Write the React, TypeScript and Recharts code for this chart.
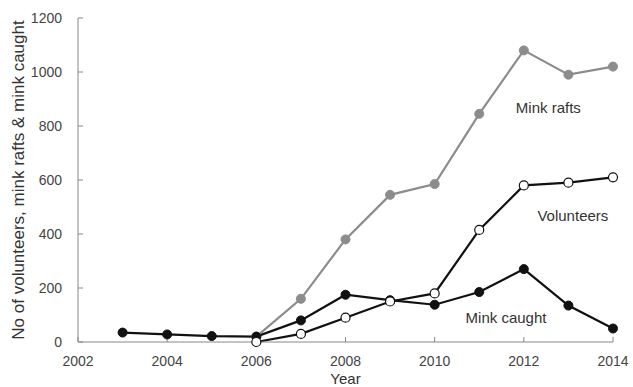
import { LineChart, Line, XAxis, YAxis, ReferenceDot } from "recharts";

const years = [2003, 2004, 2005, 2006, 2007, 2008, 2009, 2010, 2011, 2012, 2013, 2014];
const minkCaught = [35, 28, 22, 20, 80, 175, 155, 138, 185, 270, 135, 50];
const volunteers = [null, null, null, 0, 30, 90, 150, 180, 415, 580, 590, 610];
const minkRafts = [null, null, null, 20, 160, 380, 545, 585, 845, 1080, 990, 1020];

const xTicks = [2002, 2004, 2006, 2008, 2010, 2012, 2014];
const yTicks = [0, 200, 400, 600, 800, 1000, 1200];

const rows = years.map((year, i) => ({
  year,
  caught: minkCaught[i],
  volunteers: volunteers[i],
  rafts: minkRafts[i],
}));

const font = "'Liberation Sans', Arial, sans-serif";
const tickStyle = { fontSize: 14, fill: "#444", fontFamily: font };

function SeriesLabel({ text }: { text: string }) {
  return ({ viewBox }: any) => (
    <text
      x={viewBox.x}
      y={viewBox.y}
      textAnchor="middle"
      dominantBaseline="central"
      fontSize={15}
      fill="#333"
      fontFamily={font}
    >
      {text}
    </text>
  );
}

export default function App() {
  return (
    <div style={{ position: "absolute", left: 0, top: 0, background: "#fff" }}>
      <LineChart
        width={633}
        height={387}
        data={rows}
        margin={{ top: 18, right: 20, bottom: 15, left: 0 }}
      >
        <XAxis
          dataKey="year"
          type="number"
          domain={[2002, 2014]}
          ticks={xTicks}
          height={30}
          tick={tickStyle}
          stroke="#888"
          tickSize={-5}
          tickMargin={19}
          label={{
            value: "Year",
            position: "insideBottom",
            offset: -12,
            fontSize: 15,
            fill: "#333",
            fontFamily: font,
          }}
        />
        <YAxis
          domain={[0, 1200]}
          ticks={yTicks}
          width={78}
          tick={tickStyle}
          stroke="#888"
          tickSize={-5}
          tickMargin={21}
          label={{
            value: "No of volunteers, mink rafts & mink caught",
            angle: -90,
            position: "insideLeft",
            offset: 18,
            style: { textAnchor: "middle" },
            fontSize: 17,
            fill: "#333",
            fontFamily: font,
          }}
        />
        <Line
          dataKey="rafts"
          stroke="#8c8c8c"
          strokeWidth={2.2}
          dot={{ r: 4.5, fill: "#8c8c8c", stroke: "#8c8c8c", strokeWidth: 1 }}
          isAnimationActive={false}
          connectNulls={false}
        />
        <Line
          dataKey="caught"
          stroke="#111"
          strokeWidth={2.2}
          dot={{ r: 4.5, fill: "#111", stroke: "#111", strokeWidth: 1 }}
          isAnimationActive={false}
        />
        <Line
          dataKey="volunteers"
          stroke="#111"
          strokeWidth={2.2}
          dot={{ r: 4.5, fill: "#fff", stroke: "#111", strokeWidth: 1.2 }}
          isAnimationActive={false}
        />
        <ReferenceDot x={2012.55} y={867} r={0} label={SeriesLabel({ text: "Mink rafts" })} />
        <ReferenceDot x={2013.1} y={467} r={0} label={SeriesLabel({ text: "Volunteers" })} />
        <ReferenceDot x={2011.6} y={89} r={0} label={SeriesLabel({ text: "Mink caught" })} />
      </LineChart>
    </div>
  );
}
